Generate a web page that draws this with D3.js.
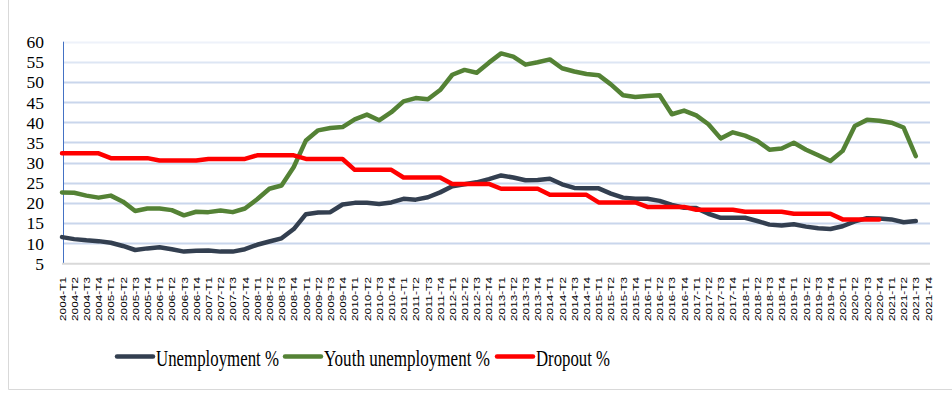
<!DOCTYPE html>
<html>
<head>
<meta charset="utf-8">
<script src="https://cdn.jsdelivr.net/npm/d3@7"></script>
<style>
  html, body { margin: 0; padding: 0; background: #ffffff; }
  svg { display: block; }
</style>
</head>
<body>
<svg id="chart" width="952" height="393"></svg>
<script>
// Quarterly categories 2004-T1 .. 2021-T4
const years = [2004, 2005, 2006, 2007, 2008, 2009, 2010, 2011, 2012,
               2013, 2014, 2015, 2016, 2017, 2018, 2019, 2020, 2021];
const quarters = ["T1", "T2", "T3", "T4"];
const categories = years.flatMap(y => quarters.map(q => `${y}-${q}`));

const yTicks = [5, 10, 15, 20, 25, 30, 35, 40, 45, 50, 55, 60];

// Series values, one per quarter from 2004-T1
const unemployment = [
  11.5, 11.0, 10.7, 10.5,  10.1, 9.3, 8.3, 8.7,   9.0, 8.5, 7.9, 8.1,
  8.2, 7.9, 7.9, 8.5,      9.6, 10.4, 11.2, 13.5, 17.2, 17.6, 17.7, 19.6,
  20.0, 20.0, 19.7, 20.1,  21.0, 20.8, 21.4, 22.6, 24.1, 24.6, 25.1, 25.9,
  26.8, 26.3, 25.6, 25.7,  26.0, 24.6, 23.7, 23.6, 23.6, 22.3, 21.3, 21.0,
  21.0, 20.5, 19.5, 18.8,  18.7, 17.3, 16.3, 16.3, 16.3, 15.5, 14.6, 14.4,
  14.7, 14.1, 13.7, 13.5,  14.2, 15.4, 16.2, 16.1, 15.9, 15.2, 15.5
];
const youthUnemployment = [
  22.6, 22.5, 21.8, 21.3,  21.8, 20.3, 18.0, 18.6,  18.6, 18.2, 16.9, 17.8,
  17.7, 18.1, 17.7, 18.6,  20.9, 23.5, 24.3, 28.9,  35.5, 38.0, 38.6, 38.8,
  40.7, 41.9, 40.5, 42.5,  45.2, 46.0, 45.7, 48.0,  51.8, 53.0, 52.3, 54.8,
  57.1, 56.3, 54.3, 54.9,  55.6, 53.4, 52.6, 52.0,  51.7, 49.4, 46.7, 46.3,
  46.5, 46.7, 42.0, 42.9,  41.7, 39.5, 36.0, 37.5,  36.7, 35.4, 33.2, 33.5,
  34.9, 33.2, 31.8, 30.4,  32.9, 39.1, 40.6, 40.4,  39.9, 38.7, 31.6
];
const dropout = [
  32.3, 32.3, 32.3, 32.3,  31.1, 31.1, 31.1, 31.1,  30.5, 30.5, 30.5, 30.5,
  30.9, 30.9, 30.9, 30.9,  31.8, 31.8, 31.8, 31.8,  30.9, 30.9, 30.9, 30.9,
  28.2, 28.2, 28.2, 28.2,  26.3, 26.3, 26.3, 26.3,  24.7, 24.7, 24.7, 24.7,
  23.5, 23.5, 23.5, 23.5,  22.0, 22.0, 22.0, 22.0,  20.1, 20.1, 20.1, 20.1,
  19.0, 19.0, 19.0, 19.0,  18.3, 18.3, 18.3, 18.3,  17.8, 17.8, 17.8, 17.8,
  17.3, 17.3, 17.3, 17.3,  15.9, 15.9, 15.9, 15.9
];

const seriesNames = ["Unemployment %", "Youth unemployment %", "Dropout %"];
const seriesColors = ["#333f50", "#548235", "#ff0000"];
const seriesValues = [unemployment, youthUnemployment, dropout];

const svg = d3.select("#chart");
const W = 952, H = 393;

// outer frame
svg.append("path")
  .attr("d", `M8.5,0 V389.5 H${W}`)
  .attr("fill", "none")
  .attr("stroke", "#d9d9d9")
  .attr("stroke-width", 1);

const x = d3.scalePoint().domain(categories).range([62, 928]);
const y = d3.scaleLinear().domain([5, 60]).range([263.3, 41.7]);

// horizontal gridlines
svg.append("g")
  .selectAll("line")
  .data(yTicks.filter(t => t > 5))
  .join("line")
  .attr("x1", 63).attr("x2", 930)
  .attr("y1", d => Math.round(y(d)) + 0.5)
  .attr("y2", d => Math.round(y(d)) + 0.5)
  .attr("stroke", d => d === 60 ? "#eef2fa" : (d === 55 ? "#dde6f4" : "#c9d6ec"))
  .attr("stroke-width", 2);

// y-axis labels
const yAxis = d3.axisLeft(y).tickValues(yTicks).tickSize(0).tickPadding(0);
const gy = svg.append("g").attr("transform", "translate(44,0)").call(yAxis);
gy.select(".domain").remove();
gy.selectAll("text")
  .attr("font-family", "'Liberation Serif', 'Times New Roman', serif")
  .attr("font-size", 17.5)
  .attr("fill", "#000")
  .attr("dy", "0.34em");

// y axis line
svg.append("line")
  .attr("x1", 63.5).attr("x2", 63.5)
  .attr("y1", y(60)).attr("y2", y(5))
  .attr("stroke", "#4472c4").attr("stroke-width", 1);

// x axis line
svg.append("line")
  .attr("x1", 62).attr("x2", 930)
  .attr("y1", y(5) + 0.5).attr("y2", y(5) + 0.5)
  .attr("stroke", "#d9d9d9").attr("stroke-width", 2);

// x-axis labels, rotated
const xAxis = d3.axisBottom(x).tickSize(0).tickPadding(0);
const gx = svg.append("g").attr("transform", "translate(0,277)").call(xAxis);
gx.select(".domain").remove();
gx.selectAll("text")
  .attr("font-family", "'Liberation Sans', Arial, sans-serif")
  .attr("font-size", 8.8)
  .attr("fill", "#000")
  .attr("text-anchor", "end")
  .attr("transform", "rotate(-90)")
  .attr("x", 0).attr("y", 0).attr("dy", "0.35em")
  .attr("textLength", 44)
  .attr("lengthAdjust", "spacingAndGlyphs");

// series lines
const line = d3.line()
  .defined(d => d != null)
  .x((d, i) => x(categories[i]))
  .y(d => y(d));

seriesValues.forEach((vals, k) => {
  svg.append("path")
    .datum(vals)
    .attr("d", line)
    .attr("fill", "none")
    .attr("stroke", seriesColors[k])
    .attr("stroke-width", 4.5)
    .attr("stroke-linejoin", "round")
    .attr("stroke-linecap", "round");
});

// legend: condensed serif labels, each squeezed horizontally to its slot width
const legendItems = [
  { x0: 117, x1: 153, tx: 156, tw: 123 },
  { x0: 285, x1: 321, tx: 324, tw: 166 },
  { x0: 497, x1: 533, tx: 536, tw: 74 }
];
const lg = svg.append("g");
legendItems.forEach((it, k) => {
  lg.append("line")
    .attr("x1", it.x0).attr("x2", it.x1)
    .attr("y1", 356.5).attr("y2", 356.5)
    .attr("stroke", seriesColors[k])
    .attr("stroke-width", 4.5)
    .attr("stroke-linecap", "round");
  const t = lg.append("text")
    .attr("x", 0).attr("y", 0)
    .attr("font-family", "'Liberation Serif', 'Times New Roman', serif")
    .attr("font-size", 23.5)
    .attr("fill", "#000")
    .text(seriesNames[k]);
  const natural = t.node().getComputedTextLength();
  t.attr("transform", `translate(${it.tx},366) scale(${it.tw / natural},1)`);
});
</script>
</body>
</html>
